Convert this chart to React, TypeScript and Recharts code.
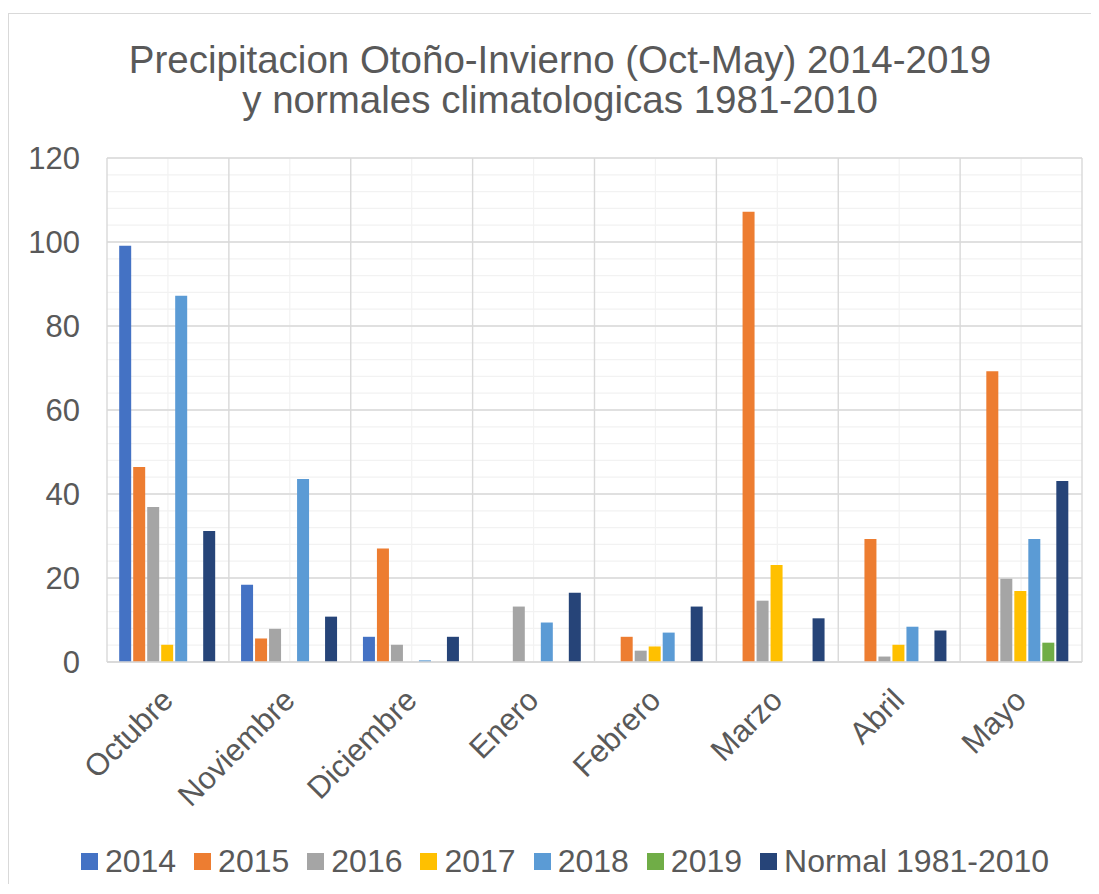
import { BarChart, Bar, XAxis, YAxis, CartesianGrid, Legend } from "recharts";

const months = ["Octubre", "Noviembre", "Diciembre", "Enero", "Febrero", "Marzo", "Abril", "Mayo"];
const p2014 = [99.1, 18.4, 6.0, 0, 0, 0, 0, 0];
const p2015 = [46.4, 5.6, 27.0, 0, 6.0, 107.2, 29.3, 69.2];
const p2016 = [36.9, 7.9, 4.1, 13.2, 2.7, 14.6, 1.3, 19.8];
const p2017 = [4.1, 0, 0, 0, 3.7, 23.1, 4.1, 16.9];
const p2018 = [87.2, 43.6, 0.4, 9.4, 7.0, 0, 8.4, 29.3];
const p2019 = [0, 0, 0, 0, 0, 0, 0, 4.6];
const normal = [31.2, 10.8, 6.0, 16.5, 13.2, 10.4, 7.5, 43.1];

const yTicks = [0, 20, 40, 60, 80, 100, 120];

const series = [
  { key: "2014", name: "2014", color: "#4472C4", values: p2014 },
  { key: "2015", name: "2015", color: "#ED7D31", values: p2015 },
  { key: "2016", name: "2016", color: "#A5A5A5", values: p2016 },
  { key: "2017", name: "2017", color: "#FFC000", values: p2017 },
  { key: "2018", name: "2018", color: "#5B9BD5", values: p2018 },
  { key: "2019", name: "2019", color: "#70AD47", values: p2019 },
  { key: "normal", name: "Normal 1981-2010", color: "#264478", values: normal },
];

const data = months.map((m, i) => {
  const row: any = { month: m };
  series.forEach((s) => (row[s.key] = s.values[i]));
  return row;
});

const FONT = '"Liberation Sans", Arial, sans-serif';
const TEXT = "#595959";

// excel style grid: minor lines every 4 mm, major every 20, category edges
const minorRows = ({ offset }: any) =>
  Array.from({ length: 31 }, (_, i) => offset.top + (i * offset.height) / 30);
const catCenters = ({ offset }: any) =>
  months.map((_, i) => offset.left + ((i + 0.5) * offset.width) / months.length);
const catEdges = ({ offset }: any) =>
  Array.from({ length: months.length + 1 }, (_, i) => offset.left + (i * offset.width) / months.length);

const MonthTick = ({ x, y, payload }: any) => {
  const tx = x + 7;
  const ty = y + 32;
  return (
    <text
      x={tx}
      y={ty}
      textAnchor="end"
      fill={TEXT}
      fontSize={31}
      fontFamily={FONT}
      transform={`rotate(-45, ${tx}, ${ty})`}
    >
      {payload.value}
    </text>
  );
};

const LegendBox = () => (
  <div
    style={{
      display: "flex",
      justifyContent: "center",
      paddingLeft: 48,
      height: 40,
      lineHeight: "40px",
      fontFamily: FONT,
      fontSize: 32,
      color: TEXT,
      whiteSpace: "nowrap",
    }}
  >
    {series.map((s) => (
      <span key={s.key} style={{ display: "inline-flex", alignItems: "center", marginRight: 18 }}>
        <span style={{ width: 17, height: 17, background: s.color, marginRight: 7, display: "inline-block" }} />
        {s.name}
      </span>
    ))}
  </div>
);

export default function App() {
  return (
    <div style={{ paddingTop: 5 }}>
      <div
        style={{
          position: "relative",
          width: 1082,
          height: 870,
          overflow: "hidden",
          borderLeft: "1px solid #d9d9d9",
          borderTop: "1px solid #d9d9d9",
          background: "#fff",
          fontFamily: FONT,
        }}
      >
        <div
          style={{
            position: "absolute",
            top: 26,
            left: 0,
            width: 1082,
            paddingLeft: 20,
            boxSizing: "border-box",
            textAlign: "center",
            fontSize: 38.5,
            lineHeight: "40px",
            color: TEXT,
            whiteSpace: "nowrap",
          }}
        >
          Precipitacion Otoño-Invierno (Oct-May) 2014-2019
          <br />
          y normales climatologicas 1981-2010
        </div>
        <BarChart
          width={1082}
          height={870}
          data={data}
          margin={{ top: 144, right: 9, bottom: 152, left: 38 }}
          barCategoryGap="10%"
          barGap={2}
        >
          <CartesianGrid
            stroke="#f2f2f2"
            strokeWidth={1.2}
            horizontalCoordinatesGenerator={minorRows}
            verticalCoordinatesGenerator={catCenters}
          />
          <CartesianGrid
            stroke="#d9d9d9"
            strokeWidth={1.4}
            verticalCoordinatesGenerator={catEdges}
          />
          <XAxis
            dataKey="month"
            axisLine={{ stroke: "#d9d9d9", strokeWidth: 1.4 }}
            tickLine={false}
            tick={<MonthTick />}
            interval={0}
            height={30}
          />
          <YAxis
            domain={[0, 120]}
            ticks={yTicks}
            width={60}
            axisLine={false}
            tickLine={false}
            tickMargin={21}
            tick={{ fill: TEXT, fontSize: 31, fontFamily: FONT }}
          />
          <Legend
            content={<LegendBox />}
            verticalAlign="bottom"
            wrapperStyle={{ top: 827, left: 0, width: 1082, height: 40 }}
          />
          {series.map((s) => (
            <Bar key={s.key} dataKey={s.key} name={s.name} fill={s.color} isAnimationActive={false} />
          ))}
        </BarChart>
      </div>
    </div>
  );
}
